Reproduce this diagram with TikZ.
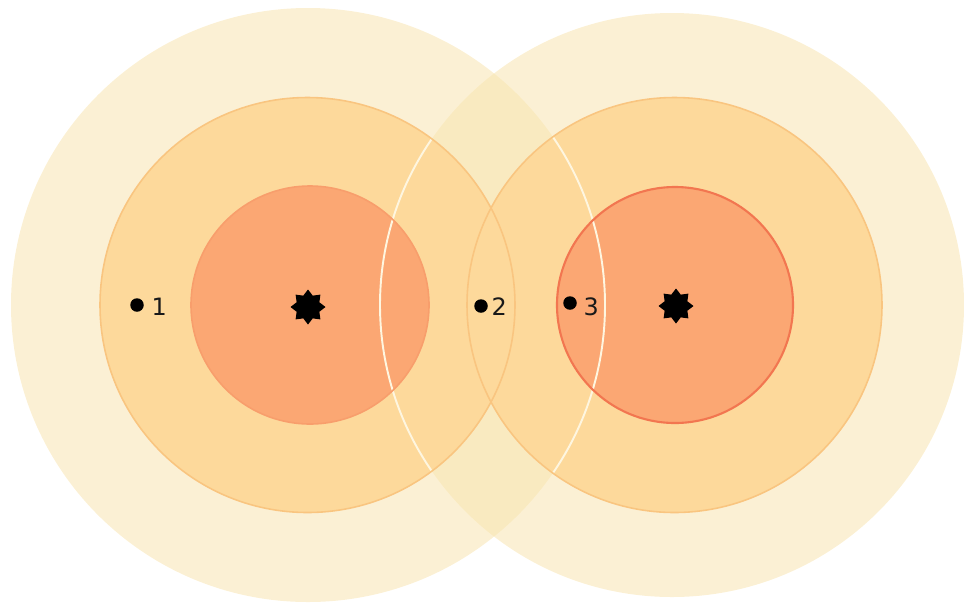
\documentclass[tikz,border=0pt]{standalone}
\usepackage{fontspec}
\setmainfont{DejaVu Sans}
\usetikzlibrary{shapes.geometric}
\definecolor{outerfill}{HTML}{F8E4B0}
\definecolor{outeredge}{HTML}{FEF6E0}
\definecolor{midfill}{HTML}{FDD99B}
\definecolor{midedge}{HTML}{F9C580}
\definecolor{innerfill}{HTML}{FBA773}
\definecolor{inneredgeL}{HTML}{F89E6C}
\definecolor{inneredgeR}{HTML}{F27650}
\tikzset{
  dotmark/.style={circle, fill=black, inner sep=0pt, minimum size=0.135cm},
  numlabel/.style={font=\fontsize{6.8}{7}\selectfont, inner sep=0pt, text=black!90, anchor=west},
  starmark/.style={star, star points=8, star point ratio=1.42, fill=black, inner sep=0pt, minimum size=0.35cm, draw=none},
}
\begin{document}
\begin{tikzpicture}
\useasboundingbox (0,0) rectangle (9.64,6.05);
\coordinate (cl) at (3.08,3.00);
\coordinate (cr) at (6.72,3.00);
\coordinate (ml) at (3.075,3.00);
\coordinate (mr) at (6.745,3.00);
\coordinate (il) at (3.10,3.00);
\coordinate (ir) at (6.75,3.00);
% outer fills (translucent so the overlap is deeper)
\fill[outerfill, fill opacity=0.55] (cl) circle (2.97);
\fill[outerfill, fill opacity=0.55] (cr) circle (2.92);
% middle fills
\fill[midfill] (ml) circle (2.075);
\fill[midfill] (mr) circle (2.075);
% inner fills
\fill[innerfill] (il) circle (1.19);
\fill[innerfill] (ir) circle (1.18);
% outer edges, visible inside the middle rings
\begin{scope}
  \clip (ml) circle (2.075) (mr) circle (2.075);
  \draw[outeredge, line width=0.55pt] (cl) circle (2.97);
  \draw[outeredge, line width=0.55pt] (cr) circle (2.92);
\end{scope}
% middle edges
\draw[midedge, line width=0.45pt] (ml) circle (2.075);
\draw[midedge, line width=0.45pt] (mr) circle (2.075);
% inner edges
\draw[inneredgeL, line width=0.45pt] (il) circle (1.19);
\draw[inneredgeR, line width=0.6pt] (ir) circle (1.18);
% stars
\node[starmark] (s1) at (3.08,2.98) {};
\node[starmark] (s2) at (6.76,2.99) {};
% points
\node[dotmark] (p1) at (1.37,3.00) {};
\node[numlabel] (l1) at (1.51,2.98) {1};
\node[dotmark] (p2) at (4.81,2.99) {};
\node[numlabel] (l2) at (4.91,2.98) {2};
\node[dotmark] (p3) at (5.70,3.02) {};
\node[numlabel] (l3) at (5.83,2.98) {3};
\end{tikzpicture}
\end{document}
